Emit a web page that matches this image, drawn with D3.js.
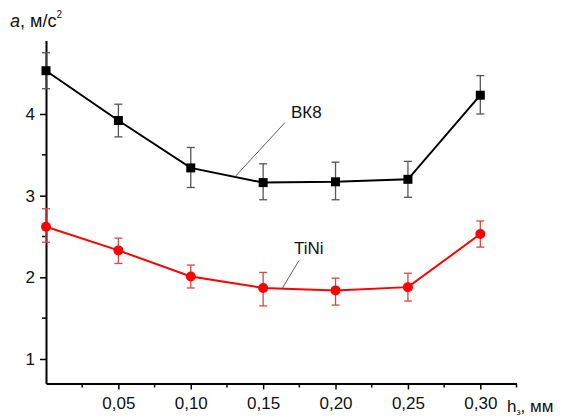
<!DOCTYPE html>
<html>
<head>
<meta charset="utf-8">
<script src="https://cdn.jsdelivr.net/npm/d3@7"></script>
<style>
	body { margin: 0; background: #fff; }
	svg { display: block; font-family: "Liberation Sans", Arial, sans-serif; }
</style>
</head>
<body>
<div id="container"><svg></svg></div>
<script>
// thickness of layer h, mm
const H = [0, 0.05, 0.10, 0.15, 0.20, 0.25, 0.30];

// BK8 (black squares)
const BK8_MEAN = [4.53, 3.92, 3.34, 3.16, 3.17, 3.20, 4.23];
const BK8_LOW  = [4.31, 3.72, 3.10, 2.95, 2.95, 2.98, 4.00];
const BK8_HIGH = [4.75, 4.12, 3.59, 3.39, 3.41, 3.42, 4.47];

// TiNi (red circles)
const TINI_MEAN = [2.62, 2.33, 2.01, 1.87, 1.84, 1.88, 2.53];
const TINI_LOW  = [2.43, 2.17, 1.87, 1.65, 1.66, 1.71, 2.37];
const TINI_HIGH = [2.84, 2.48, 2.15, 2.06, 1.99, 2.05, 2.69];

const X_TICKS = [0.05, 0.10, 0.15, 0.20, 0.25, 0.30];
const X_MINOR = [0.025, 0.075, 0.125, 0.175, 0.225, 0.275, 0.325];
const Y_TICKS = [1, 2, 3, 4];
const Y_MINOR = [1.5, 2.5, 3.5, 4.5];

const width = 561, height = 416;
const FONT = 17;

let svg = d3.select("svg").attr("width", width).attr("height", height);

// SCALES
let x = d3.scaleLinear().domain([0, 0.325]).range([46, 516.5]);
let y = d3.scaleLinear().domain([0.7, 4.9]).range([383.5, 40.5]);

const fmt = d => d.toFixed(2).replace(".", ",");

// AXES
let xAxis = svg.append("g").attr("transform", `translate(0,${y(0.7)})`);
xAxis.call(d3.axisBottom(x).tickValues(X_TICKS).tickSize(6).tickSizeOuter(0).tickFormat(fmt));
xAxis.append("g").selectAll("line").data(X_MINOR).enter().append("line")
	.attr("x1", d => x(d)).attr("x2", d => x(d))
	.attr("y1", 0).attr("y2", 4)
	.attr("stroke", "#000").attr("stroke-width", 1.5);

let yAxis = svg.append("g").attr("transform", `translate(${x(0)},0)`);
yAxis.call(d3.axisLeft(y).tickValues(Y_TICKS).tickSize(6).tickSizeOuter(0).tickFormat(d3.format("d")));
yAxis.append("g").selectAll("line").data(Y_MINOR).enter().append("line")
	.attr("y1", d => y(d)).attr("y2", d => y(d))
	.attr("x1", 0).attr("x2", -4)
	.attr("stroke", "#000").attr("stroke-width", 1.5);

[xAxis, yAxis].forEach(a => {
	a.select(".domain").attr("stroke-width", 2);
	a.selectAll(".tick line").attr("stroke-width", 1.5);
	a.selectAll(".tick text").attr("font-size", FONT).attr("font-family", "Liberation Sans, Arial, sans-serif").attr("fill", "#111");
});
xAxis.selectAll(".tick text").attr("y", 13).attr("dy", "0.71em");
yAxis.selectAll(".tick text").attr("x", -11);

// AXIS TITLES
let yTitle = svg.append("text").attr("x", 10).attr("y", 27).attr("font-size", FONT + 1).attr("fill", "#111");
yTitle.append("tspan").attr("font-style", "italic").text("a");
yTitle.append("tspan").text(", м/с");
yTitle.append("tspan").attr("font-size", 10).attr("dy", -9).text("2");

let xTitle = svg.append("text").attr("x", 507).attr("y", 412).attr("font-size", FONT).attr("fill", "#111");
xTitle.append("tspan").text("h");
xTitle.append("tspan").attr("font-size", 9).attr("dy", 3).text("з");
xTitle.append("tspan").attr("dy", -3).text(", мм");

// SERIES
function drawSeries(mean, low, high, color, barColor, shape) {
	let data = H.map((h, i) => ({ h: h, m: mean[i], lo: low[i], hi: high[i] }));
	let g = svg.append("g");

	let bars = g.selectAll(".err").data(data).enter().append("g").attr("class", "err")
		.attr("stroke", barColor).attr("stroke-width", 1.3);
	bars.append("line").attr("x1", d => x(d.h)).attr("x2", d => x(d.h)).attr("y1", d => y(d.lo)).attr("y2", d => y(d.hi));
	bars.append("line").attr("x1", d => x(d.h) - 4).attr("x2", d => x(d.h) + 4).attr("y1", d => y(d.lo)).attr("y2", d => y(d.lo));
	bars.append("line").attr("x1", d => x(d.h) - 4).attr("x2", d => x(d.h) + 4).attr("y1", d => y(d.hi)).attr("y2", d => y(d.hi));

	g.append("path").datum(data)
		.attr("fill", "none").attr("stroke", color).attr("stroke-width", 2)
		.attr("d", d3.line().x(d => x(d.h)).y(d => y(d.m)));

	if (shape == "square") {
		g.selectAll(".pt").data(data).enter().append("rect").attr("class", "pt")
			.attr("x", d => x(d.h) - 4.5).attr("y", d => y(d.m) - 4.5)
			.attr("width", 9).attr("height", 9).attr("fill", color);
	} else {
		g.selectAll(".pt").data(data).enter().append("circle").attr("class", "pt")
			.attr("cx", d => x(d.h)).attr("cy", d => y(d.m)).attr("r", 5).attr("fill", color);
	}
}

drawSeries(BK8_MEAN, BK8_LOW, BK8_HIGH, "#000", "#555", "square");
drawSeries(TINI_MEAN, TINI_LOW, TINI_HIGH, "#f00", "#d44", "circle");

// LABELS with leader lines, anchored on the series line
let leaders = [
	{ text: "ВК8", tx: 291, ty: 118, x1: 285, y1: 122.5, h: 0.1305, v: 3.23 },
	{ text: "TiNi", tx: 294, ty: 254, x1: 299, y1: 260.5, h: 0.163, v: 1.86 }
];

leaders.forEach(l => {
	svg.append("text").attr("x", l.tx).attr("y", l.ty).attr("font-size", FONT).attr("fill", "#111").text(l.text);
	svg.append("line")
		.attr("x1", l.x1).attr("y1", l.y1)
		.attr("x2", x(l.h)).attr("y2", y(l.v))
		.attr("stroke", "#333").attr("stroke-width", 0.8);
});
</script>
</body>
</html>
